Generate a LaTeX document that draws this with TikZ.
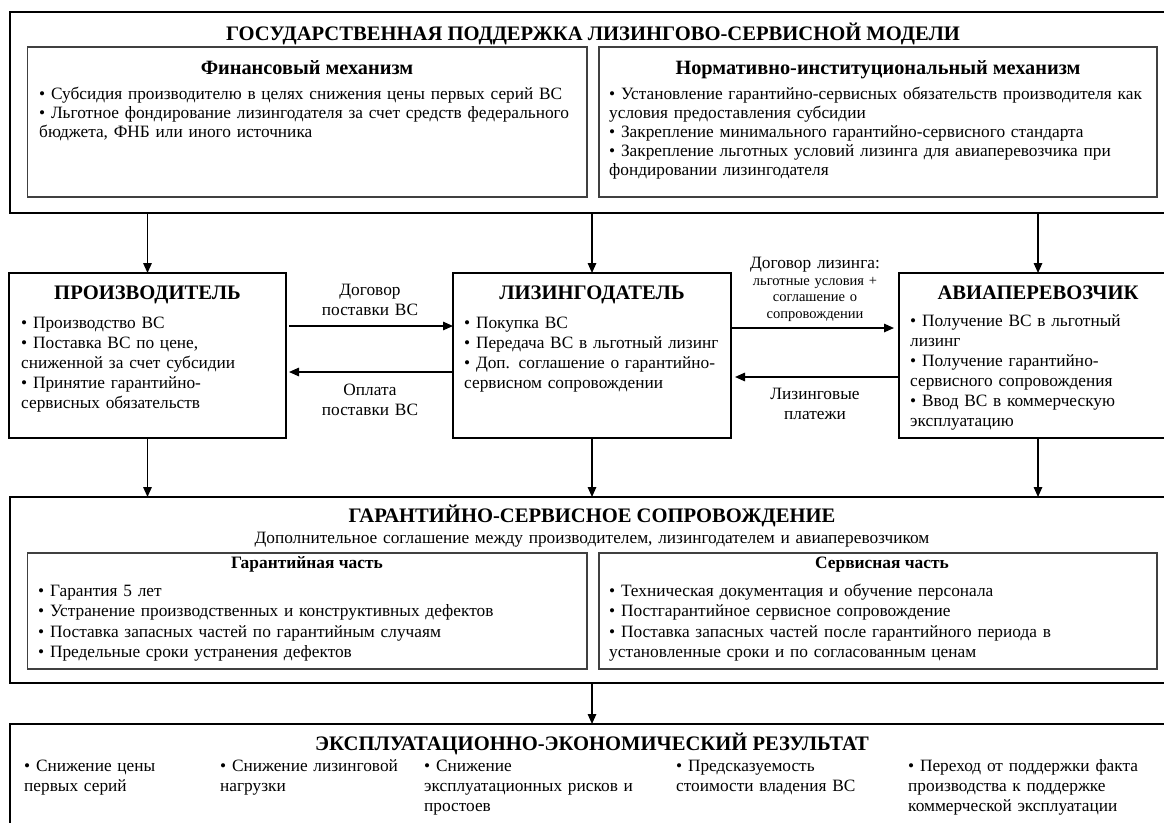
\documentclass[tikz,border=0pt]{standalone}
\usepackage{fontspec}
\setmainfont{Liberation Serif}
\usetikzlibrary{arrows.meta}
\begin{document}
\begin{tikzpicture}[x=1pt,y=-1pt,
 bigbox/.style={draw, line width=2.2pt, anchor=north west, inner sep=0pt, outer sep=0pt},
 midbox/.style={draw, line width=2pt, anchor=north west, inner sep=0pt, outer sep=0pt},
 subbox/.style={draw=black!75, line width=1.2pt, anchor=north west, inner sep=0pt, outer sep=0pt},
 bigtitle/.style={font=\fontsize{20.6}{24}\selectfont\bfseries, inner sep=0pt, anchor=base},
 subtitle/.style={font=\fontsize{20.3}{24}\selectfont\bfseries, inner sep=0pt, anchor=base},
 parttitle/.style={font=\fontsize{17.4}{20}\selectfont\bfseries, inner sep=0pt, anchor=base},
 body/.style={font=\fontsize{17.3}{20}\selectfont, align=left, inner sep=0pt, anchor=base west},
 gbody/.style={font=\fontsize{17.3}{20.6}\selectfont, align=left, inner sep=0pt, anchor=base west},
 topbody/.style={font=\fontsize{17.3}{19}\selectfont, align=left, inner sep=0pt, anchor=base west},
 lbl/.style={font=\fontsize{17.3}{20}\selectfont, align=center, inner sep=0pt, anchor=base},
 smalllbl/.style={font=\fontsize{14.5}{16.5}\selectfont, align=center, inner sep=0pt, anchor=base},
 arr/.style={line width=1.5pt, -{Triangle[length=10pt,width=8.5pt]}}
]
\useasboundingbox (0,0) rectangle (1164,822);
\clip (0,0) rectangle (1164,822);

% ---------- top block ----------
\node[bigbox, minimum width=1180pt, minimum height=201pt] (gov) at (10,12) {};
\node[bigtitle] (govt) at (593,40) {ГОСУДАРСТВЕННАЯ ПОДДЕРЖКА ЛИЗИНГОВО-СЕРВИСНОЙ МОДЕЛИ};
\node[subbox, minimum width=559.5pt, minimum height=150pt] (fin) at (27.5,47) {};
\node[subtitle] (fint) at (307,74.5) {Финансовый механизм};
\node[topbody, text width=545pt] (finb) at (39,99) {• Субсидия производителю в целях снижения цены первых серий ВС\\• Льготное фондирование лизингодателя за счет средств федерального\\бюджета, ФНБ или иного источника};
\node[subbox, minimum width=558pt, minimum height=150pt] (norm) at (599,47) {};
\node[subtitle] (normt) at (878,74.5) {Нормативно-институциональный механизм};
\node[topbody, text width=548pt] (normb) at (609,99) {• Установление гарантийно-сервисных обязательств производителя как\\условия предоставления субсидии\\• Закрепление минимального гарантийно-сервисного стандарта\\• Закрепление льготных условий лизинга для авиаперевозчика при\\фондировании лизингодателя};

% ---------- participants ----------
\node[midbox, minimum width=277pt, minimum height=165pt] (prod) at (9,273) {};
\node[bigtitle] (prodt) at (147.5,299) {ПРОИЗВОДИТЕЛЬ};
\node[body, text width=265pt] (prodb) at (21,328) {• Производство ВС\\• Поставка ВС по цене,\\сниженной за счет субсидии\\• Принятие гарантийно-\\сервисных обязательств};

\node[midbox, minimum width=278pt, minimum height=165pt] (lessor) at (453,273) {};
\node[bigtitle] (lessort) at (592,299) {ЛИЗИНГОДАТЕЛЬ};
\node[body, text width=265pt] (lessorb) at (464,328) {• Покупка ВС\\• Передача ВС в льготный лизинг\\• Доп. соглашение о гарантийно-\\сервисном сопровождении};

\node[midbox, minimum width=278pt, minimum height=165pt] (carrier) at (899,273) {};
\node[bigtitle] (carriert) at (1038,299) {АВИАПЕРЕВОЗЧИК};
\node[body, text width=262pt] (carrierb) at (910,326) {• Получение ВС в льготный\\лизинг\\• Получение гарантийно-\\сервисного сопровождения\\• Ввод ВС в коммерческую\\эксплуатацию};

% horizontal flows
\coordinate (r1) at (0,326);
\coordinate (l1) at (0,372);
\coordinate (r2) at (0,328);
\coordinate (l2) at (0,377);
\draw[arr, shorten <=3pt] (prod.east |- r1) -- (lessor.west |- r1);
\draw[arr, shorten >=3pt] (lessor.west |- l1) -- (prod.east |- l1);
\draw[arr, shorten >=5pt] (lessor.east |- r2) -- (carrier.west |- r2);
\draw[arr, shorten >=4pt] (carrier.west |- l2) -- (lessor.east |- l2);

\node[lbl, text width=150pt] (lab1) at (370,295) {Договор\\поставки ВС};
\node[lbl, text width=150pt] (lab2) at (370,395) {Оплата\\поставки ВС};
\node[lbl, text width=160pt] (lab3) at (815,268) {Договор лизинга:};
\node[smalllbl, text width=160pt] (lab3b) at (815,285) {льготные условия +\\соглашение о\\сопровождении};
\node[lbl, text width=150pt] (lab4) at (815,399) {Лизинговые\\платежи};

% vertical flows from the top block
\draw[arr] (gov.south -| prod.north) -- (prod.north);
\draw[arr] (gov.south -| lessor.north) -- (lessor.north);
\draw[arr] (gov.south -| carrier.north) -- (carrier.north);

% ---------- guarantee / service block ----------
\node[bigbox, minimum width=1180pt, minimum height=186pt] (guar) at (10,497) {};
\node[bigtitle] (guart) at (592,522) {ГАРАНТИЙНО-СЕРВИСНОЕ СОПРОВОЖДЕНИЕ};
\node[lbl, text width=800pt] (guars) at (592,543) {Дополнительное соглашение между производителем, лизингодателем и авиаперевозчиком};
\node[subbox, minimum width=559.5pt, minimum height=116pt] (gpart) at (27.5,553) {};
\node[parttitle] (gpartt) at (307,568) {Гарантийная часть};
\node[gbody, text width=545pt] (gpartb) at (38,596) {• Гарантия 5 лет\\• Устранение производственных и конструктивных дефектов\\• Поставка запасных частей по гарантийным случаям\\• Предельные сроки устранения дефектов};
\node[subbox, minimum width=558pt, minimum height=116pt] (spart) at (599,553) {};
\node[parttitle] (spartt) at (882,568) {Сервисная часть};
\node[gbody, text width=545pt] (spartb) at (609,596) {• Техническая документация и обучение персонала\\• Постгарантийное сервисное сопровождение\\• Поставка запасных частей после гарантийного периода в\\установленные сроки и по согласованным ценам};

\draw[arr] (prod.south) -- (prod.south |- guar.north);
\draw[arr] (lessor.south) -- (lessor.south |- guar.north);
\draw[arr] (carrier.south) -- (carrier.south |- guar.north);

% ---------- result block ----------
\node[bigbox, minimum width=1180pt, minimum height=130pt] (res) at (10,724) {};
\draw[arr] (guar.south -| lessor.south) -- (res.north -| lessor.south);
\node[bigtitle] (rest) at (592,750) {ЭКСПЛУАТАЦИОННО-ЭКОНОМИЧЕСКИЙ РЕЗУЛЬТАТ};
\node[body, text width=180pt] (res1) at (24,771) {• Снижение цены\\первых серий};
\node[body, text width=190pt] (res2) at (220,771) {• Снижение лизинговой\\нагрузки};
\node[body, text width=250pt] (res3) at (424,771) {• Снижение\\эксплуатационных рисков и\\простоев};
\node[body, text width=220pt] (res4) at (676,771) {• Предсказуемость\\стоимости владения ВС};
\node[body, text width=250pt] (res5) at (908,771) {• Переход от поддержки факта\\производства к поддержке\\коммерческой эксплуатации};
\end{tikzpicture}
\end{document}
